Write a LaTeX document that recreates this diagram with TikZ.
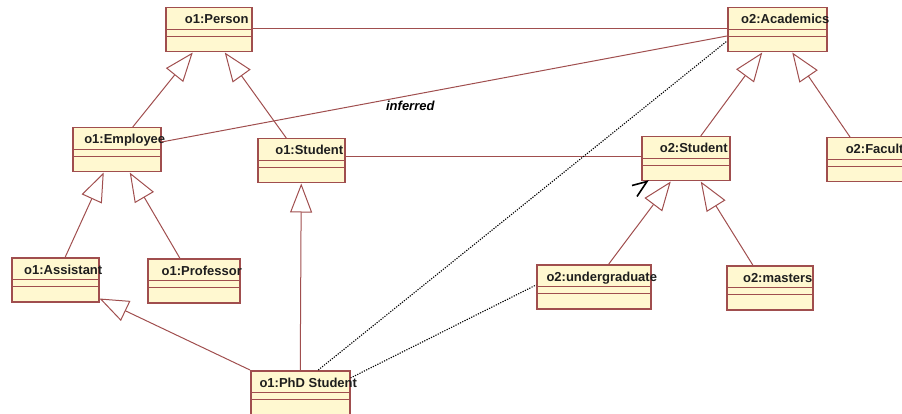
\documentclass[tikz,border=0pt]{standalone}
\usepackage{fontspec}
\setmainfont{Liberation Sans}
\usetikzlibrary{arrows.meta}
\definecolor{umlred}{RGB}{160,78,78}
\definecolor{umlfill}{RGB}{255,248,208}
\definecolor{umltext}{RGB}{30,30,30}
\begin{document}
\begin{tikzpicture}[x=1pt, y=-1pt,
    obj/.style={draw=umlred, fill=umlfill, line width=1.5pt, minimum height=44pt, inner sep=0pt, anchor=north west},
    objtext/.style={text=umltext, anchor=base, font=\fontsize{13}{15}\selectfont\bfseries},
    assoc/.style={draw=umlred, line width=1pt},
    isa/.style={assoc, -{Triangle[open, length=29pt, width=22pt]}},
    dotline/.style={draw=black, line width=1.1pt, dash pattern=on 1.2pt off 1.3pt}]
    \useasboundingbox (0, 0) rectangle (902, 414);
    \foreach \n/\x/\y/\w/\t in {person/165/7/86/o1:Person, acad/727/7/99/o2:Academics,
        emp/72/127/88/o1:Employee, stuA/257/138/87/o1:Student, stuB/641/136/88/o2:Student,
        fac/826/137/87/o2:Faculty, asst/11/257/87/o1:Assistant, prof/147/258/92/o1:Professor,
        ugrad/536/264/114/o2:undergraduate, mast/726/265/86/o2:masters, phd/250/370/99/o1:PhD Student} {
        \node[obj, minimum width=\w pt] (\n) at (\x, \y) {};
        \draw[umlred, line width=0.9pt] ([yshift=-22pt]\n.north west) -- ([yshift=-22pt]\n.north east)
            ([yshift=-29pt]\n.north west) -- ([yshift=-29pt]\n.north east);
        \node[objtext] at ([xshift=8pt, yshift=-17pt]\n.north) {\t};
    }
    \draw[assoc] ([yshift=-22pt]person.north east) -- ([yshift=-22pt]acad.north west);
    \draw[assoc] ([yshift=-15pt]emp.north east) -- ([yshift=-29pt]acad.north west)
        node[pos=0.44, below=2pt, text=black, font=\fontsize{13}{15}\selectfont\bfseries\itshape] {inferred};
    \draw[assoc] ([yshift=-19pt]stuA.north east) -- ([yshift=-21pt]stuB.north west);
    \draw[isa] ([xshift=16pt]emp.north) -- ([xshift=-16pt]person.south);
    \draw[isa] ([xshift=-15pt]stuA.north) -- ([xshift=16pt]person.south);
    \draw[isa] ([xshift=10pt]asst.north) -- ([xshift=-13pt]emp.south);
    \draw[isa] ([xshift=-14pt]prof.north) -- ([xshift=13pt]emp.south);
    \draw[isa] (phd.north) -- (stuA.south);
    \draw[isa] (phd.north west) -- ([yshift=4pt]asst.south east);
    \draw[isa] ([xshift=15pt]stuB.north) -- ([xshift=-15pt]acad.south);
    \draw[isa] ([xshift=24pt]fac.north west) -- ([xshift=15pt]acad.south);
    \draw[isa] ([xshift=15pt]ugrad.north) -- ([xshift=-15pt]stuB.south);
    \draw[isa] ([xshift=-17pt]mast.north) -- ([xshift=15pt]stuB.south);
    \draw[dotline] ([xshift=18pt]phd.north) -- ([yshift=-34pt]acad.north west);
    \draw[dotline] ([yshift=-8pt]phd.north east) -- ([yshift=-21pt]ugrad.north west);
    \draw[black, line width=1.6pt] ([xshift=-9pt, yshift=-4pt]stuB.south west) -- ([xshift=6pt]stuB.south west)
        -- ([xshift=-4pt, yshift=-15pt]stuB.south west);
\end{tikzpicture}
\end{document}
